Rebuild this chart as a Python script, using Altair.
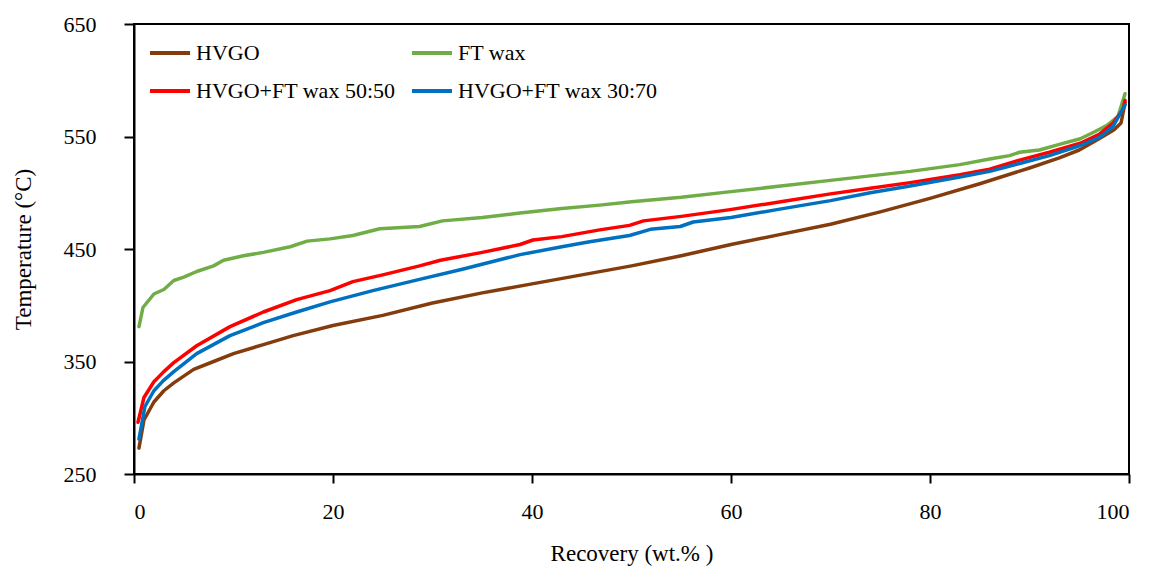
import altair as alt
import pandas as pd

# ---- data ----
series_names = ["HVGO", "FT wax", "HVGO+FT wax 50:50", "HVGO+FT wax 30:70"]
series_colors = ["#843C0C", "#70AD47", "#FF0000", "#0070C0"]

hvgo_x = [0.5, 1, 2, 3, 4, 6, 8, 10, 13, 16, 20, 25, 30, 35, 40, 45, 50, 55, 60,
          65, 70, 75, 80, 85, 90, 93, 95, 97, 98.5, 99.2, 99.6]
hvgo_t = [273, 298, 314, 324, 331, 343, 350, 357, 365, 373, 382, 391, 402, 411, 419,
          427, 435, 444, 454, 463, 472, 483, 495, 508, 522, 531, 538, 548, 556, 562, 580]

ft_x = [0.5, 0.9, 2, 3, 4, 5, 6.3, 8, 9, 11, 13, 15.7, 17.4, 19.7, 22, 24.7, 28.7, 31,
        35, 38.8, 43, 46.8, 50, 55, 60, 65, 70, 74, 78, 83, 86, 88, 89, 91, 93, 95.1,
        96.5, 97.8, 98.9, 99.6]
ft_t = [381, 398, 410, 414, 422, 425, 430, 435, 440, 444, 447, 452, 457, 459, 462, 468,
        470, 475, 478, 482, 486, 489, 492, 496, 501, 506, 511, 515, 519, 525, 530, 533,
        536, 538, 543, 548, 554, 560, 568, 588]

mix50_x = [0.4, 1, 2, 3, 4, 6.3, 9.65, 13, 16.35, 19.7, 22, 25, 28.7, 30.8, 35, 38.8,
           40.1, 43, 46.8, 49.8, 51.2, 55, 59.9, 65, 70, 74, 78, 83, 86, 89, 92, 95.1,
           97, 98.4, 99.4, 99.6]
mix50_t = [296, 318, 332, 341, 349, 364, 381, 394, 405, 413, 421, 427, 435, 440, 447,
           454, 458, 461, 467, 471, 475, 479, 485, 492, 499, 504, 509, 516, 521, 529,
           536, 544, 552, 562, 574, 582]

mix30_x = [0.5, 1.1, 2, 2.95, 4, 6.3, 9.65, 13, 16.35, 19.7, 24, 28.7, 33, 38.8, 43,
           45.8, 49.8, 51.9, 54.9, 56.2, 60, 64.6, 70, 74, 78, 83, 86, 89, 92, 95.1,
           97, 98.4, 99.6]
mix30_t = [281, 310, 324, 333, 341, 357, 373, 384.5, 394, 403, 413, 423, 432, 445, 452,
           456.5, 462, 467.5, 470, 474, 478, 485, 493, 500, 506, 514, 519, 526, 533,
           542, 549, 559, 578]

x_ticks = [0, 20, 40, 60, 80, 100]
y_ticks = [250, 350, 450, 550, 650]

rows = []
for name, xs, ts in zip(series_names,
                        [hvgo_x, ft_x, mix50_x, mix30_x],
                        [hvgo_t, ft_t, mix50_t, mix30_t]):
    for i, (xv, tv) in enumerate(zip(xs, ts)):
        rows.append({"series": name, "order": i, "x": xv, "t": tv})
df = pd.DataFrame(rows)

FONT = "Liberation Serif"

chart = (
    alt.Chart(df)
    .mark_line(strokeWidth=3.5, strokeJoin="round", strokeCap="round")
    .encode(
        x=alt.X("x:Q", scale=alt.Scale(domain=[0, 100], nice=False),
                axis=alt.Axis(values=x_ticks, title="Recovery (wt.% )", grid=False,
                              tickSize=9, tickWidth=2, domainWidth=2,
                              domainColor="black", tickColor="black",
                              labelPadding=18, titlePadding=20)),
        y=alt.Y("t:Q", scale=alt.Scale(domain=[250, 650], nice=False, zero=False),
                axis=alt.Axis(values=y_ticks, title="Temperature (°C)", grid=False,
                              tickSize=10, tickWidth=2, domainWidth=2,
                              domainColor="black", tickColor="black",
                              labelPadding=28, titlePadding=28)),
        color=alt.Color("series:N",
                        scale=alt.Scale(domain=series_names, range=series_colors),
                        sort=series_names,
                        legend=alt.Legend(title=None, orient="none", legendX=14,
                                          legendY=7, columns=2, columnPadding=8,
                                          rowPadding=5, symbolType="stroke",
                                          symbolSize=1600, symbolStrokeWidth=4,
                                          labelFontSize=22, labelFont=FONT,
                                          labelFontWeight="normal",
                                          labelColor="black", labelOffset=4,
                                          labelLimit=500, padding=0,
                                          direction="horizontal")),
        detail="series:N",
        order=alt.Order("order:Q"),
    )
    .properties(width=995, height=450, background="white",
                padding={"left": 134, "top": 24, "right": 22, "bottom": 95},
                autosize=alt.AutoSizeParams(type="none"))
    .configure_view(stroke="black", strokeWidth=2)
    .configure_axis(labelFont=FONT, titleFont=FONT, labelFontSize=22,
                    titleFontSize=23, labelColor="black", titleColor="black",
                    titleFontWeight="normal")
)

chart.save("out.html", embed_options={"renderer": "svg", "actions": False})
